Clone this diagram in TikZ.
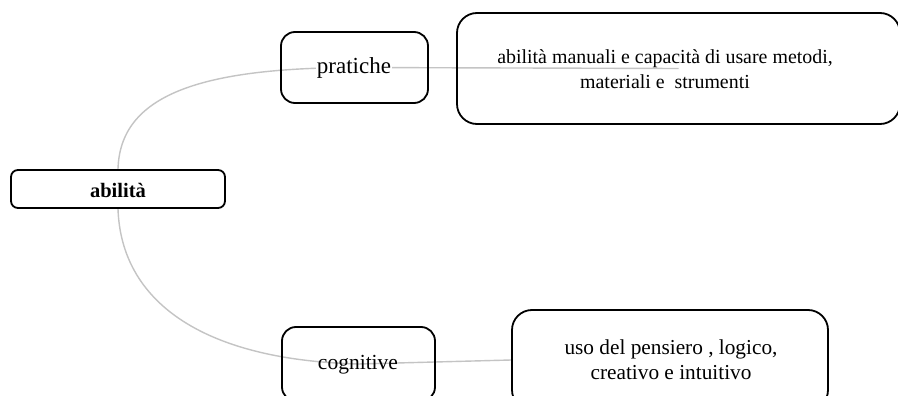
\documentclass[tikz,border=0pt]{standalone}
\usepackage{fontspec}
\setmainfont{Liberation Serif}
\usetikzlibrary{backgrounds}
\definecolor{linkgray}{HTML}{C4C4C4}
\tikzset{
  box/.style={draw=black, line width=1.8pt, rounded corners=#1, inner sep=0pt},
  box/.default=14pt,
  txt/.style={font=\fontsize{20.5}{25}\selectfont, align=center, inner sep=1pt},
  link/.style={draw=linkgray, line width=1.4pt}
}
\begin{document}
\begin{tikzpicture}[x=1pt,y=-1pt]
\clip (0,0) rectangle (898,396);
% boxes
\node[box=7pt, minimum width=214pt, minimum height=38pt] (abil) at (118,189) {};
\node[box=14pt, minimum width=147pt, minimum height=71pt] (prat) at (354.5,67.5) {};
\node[box=20pt, minimum width=443pt, minimum height=111pt] (big) at (678.5,68.5) {};
\node[box=14pt, minimum width=153pt, minimum height=74pt] (cog) at (358.5,364) {};
\node[box=20pt, minimum width=316pt, minimum height=100pt] (uso) at (670,360) {};
% connectors
\begin{scope}[on background layer]
\fill[white] (0,0) rectangle (898,396);
\draw[link] (abil.north) .. controls (120,95) and (200,68) .. (prat.center) -- (big.center);
\draw[link] (abil.south) .. controls (121,300) and (200,360) .. (cog.center) -- (uso.west);
\end{scope}
% texts
\node[txt, font=\fontsize{20.5}{25}\selectfont\bfseries] (abilt) at (118,190) {abilità};
\node[txt, fill=white, font=\fontsize{23}{25}\selectfont] (pratt) at (354,68) {pratiche};
\node[txt, font=\fontsize{19.9}{25}\selectfont] (bigt) at (665,69) {abilità manuali e capacità di usare metodi,\\materiali e\ \ strumenti};
\node[txt, font=\fontsize{21.5}{25}\selectfont] (cogt) at (358,365) {cognitive};
\node[txt, font=\fontsize{21.3}{25}\selectfont] (usot) at (671,360) {uso del pensiero , logico,\\creativo e intuitivo};
\end{tikzpicture}
\end{document}
